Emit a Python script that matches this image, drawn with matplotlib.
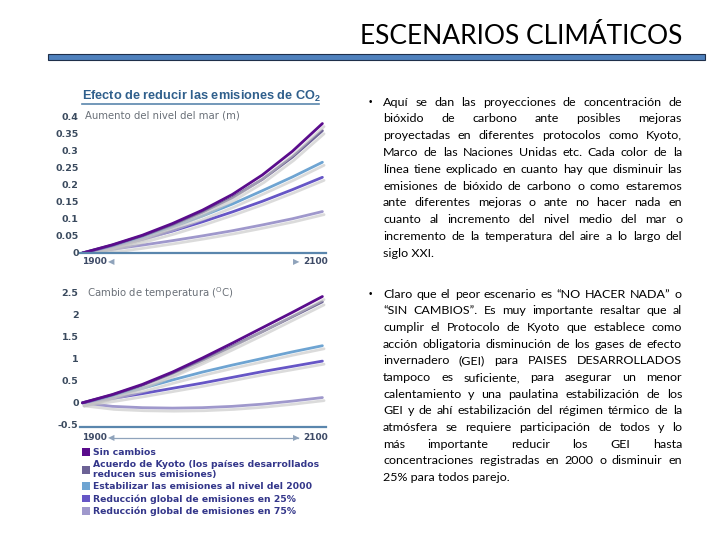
import matplotlib
matplotlib.use("Agg")
import matplotlib.pyplot as plt
import matplotlib.patheffects as pe
from matplotlib.patches import Patch, Rectangle
from matplotlib.lines import Line2D

plt.rcParams['mathtext.default'] = 'regular'

# ---- data ----
years = [1900, 1925, 1950, 1975, 2000, 2025, 2050, 2075, 2100]

scenarios = [
    "Sin cambios",
    "Acuerdo de Kyoto (los países desarrollados\nreducen sus emisiones)",
    "Estabilizar las emisiones al nivel del 2000",
    "Reducción global de emisiones en 25%",
    "Reducción global de emisiones en 75%",
]
colors = ["#5a0c8c", "#6c6295", "#6ea4d2", "#6656c6", "#9f98cc"]

sea_sin_cambios = [0, 0.024, 0.052, 0.086, 0.125, 0.171, 0.228, 0.297, 0.378]
sea_kyoto = [0, 0.023, 0.050, 0.082, 0.119, 0.162, 0.215, 0.280, 0.357]
sea_estabilizar = [0, 0.022, 0.047, 0.076, 0.108, 0.143, 0.182, 0.222, 0.265]
sea_red25 = [0, 0.018, 0.040, 0.064, 0.091, 0.120, 0.151, 0.185, 0.221]
sea_red75 = [0, 0.011, 0.023, 0.036, 0.050, 0.065, 0.082, 0.100, 0.121]

temp_sin_cambios = [0, 0.19, 0.42, 0.70, 1.02, 1.36, 1.71, 2.06, 2.42]
temp_kyoto = [0, 0.18, 0.40, 0.67, 0.97, 1.29, 1.62, 1.96, 2.30]
temp_estabilizar = [0, 0.16, 0.33, 0.52, 0.70, 0.86, 1.01, 1.16, 1.30]
temp_red25 = [0, 0.10, 0.21, 0.33, 0.45, 0.58, 0.71, 0.83, 0.95]
temp_red75 = [0, -0.08, -0.11, -0.12, -0.11, -0.08, -0.03, 0.04, 0.12]

sea_series = [sea_sin_cambios, sea_kyoto, sea_estabilizar, sea_red25, sea_red75]
temp_series = [temp_sin_cambios, temp_kyoto, temp_estabilizar, temp_red25, temp_red75]

sea_ticks = [0, 0.05, 0.1, 0.15, 0.2, 0.25, 0.3, 0.35, 0.4]
temp_ticks = [-0.5, 0, 0.5, 1, 1.5, 2, 2.5]

title = "ESCENARIOS CLIMÁTICOS"
parrafo1 = [
    "Aquí se dan las proyecciones de concentración de",
    "bióxido de carbono ante posibles mejoras",
    "proyectadas en diferentes protocolos como Kyoto,",
    "Marco de las Naciones Unidas etc.  Cada color de la",
    "línea tiene explicado en cuanto hay que disminuir las",
    "emisiones de bióxido de carbono o como estaremos",
    "ante diferentes mejoras o ante no hacer nada en",
    "cuanto al incremento del nivel medio del mar o",
    "incremento de la temperatura del aire a lo largo del",
    "siglo XXI.",
]
parrafo2 = [
    "Claro que el peor escenario es “NO HACER NADA” o",
    "“SIN CAMBIOS”. Es muy importante resaltar que al",
    "cumplir el Protocolo de Kyoto que establece como",
    "acción obligatoria disminución de los gases de efecto",
    "invernadero (GEI) para PAISES DESARROLLADOS",
    "tampoco es suficiente, para asegurar un menor",
    "calentamiento y una paulatina estabilización de los",
    "GEI y de ahí estabilización del régimen térmico de la",
    "atmósfera se requiere participación de todos y lo",
    "más importante reducir los GEI hasta",
    "concentraciones registradas en 2000 o disminuir en",
    "25% para todos parejo.",
]

W, H = 720, 540
fig = plt.figure(figsize=(7.2, 5.4), dpi=100)
fig.patch.set_facecolor("white")


def fx(x):
    return x / W


def fy(y):
    return 1 - y / H


# title and blue bar
fig.text(fx(521), fy(36), title, fontsize=19, ha="center", va="center",
         family="Lato", color="black")
fig.add_artist(Rectangle((fx(48), fy(60)), (705 - 48) / W, 6 / H,
                         transform=fig.transFigure, facecolor="#4f81bd",
                         edgecolor="#1f2f4a", linewidth=0.8))

tick_col = "#3a4a5e"
axis_col = "#5a86ad"
shadow = [pe.SimpleLineShadow(offset=(1.2, -2.2), shadow_color="#c4c4c4", alpha=0.6),
          pe.Normal()]


def setup(ax, ticks, lim):
    ax.set_xlim(1898, 2103)
    ax.set_ylim(*lim)
    ax.set_yticks(ticks)
    ax.set_yticklabels(["%g" % t for t in ticks])
    ax.set_xticks([])
    ax.tick_params(axis="y", length=0, pad=1, labelsize=6.8, labelcolor=tick_col)
    for lab in ax.get_yticklabels():
        lab.set_fontweight("bold")
    for s in ["top", "right", "left"]:
        ax.spines[s].set_visible(False)
    ax.spines["bottom"].set_color(axis_col)
    ax.spines["bottom"].set_linewidth(1.6)
    ax.patch.set_alpha(0)


# sea level chart
ax1 = fig.add_axes([fx(80), fy(253), 246 / W, 137 / H])
setup(ax1, sea_ticks, (0, 0.4))
for vals, c in reversed(list(zip(sea_series, colors))):
    ax1.plot(years, vals, color=c, linewidth=2.0, path_effects=shadow,
             solid_capstyle="round", solid_joinstyle="round")
ax1.text(1902, 0.4, "Aumento del nivel del mar (m)", fontsize=7.3,
         color="#6a7078", va="center", ha="left")

fig.text(fx(82), fy(96), "Efecto de reducir las emisiones de CO$_2$",
         fontsize=9.2, color="#2f5f8c", fontweight="bold", va="center",
         family="Liberation Sans")
fig.add_artist(Line2D([fx(82), fx(319)], [fy(104), fy(104)], color="#5a86ad",
                      linewidth=1.2, transform=fig.transFigure))

# temperature chart
ax2 = fig.add_axes([fx(80), fy(427), 246 / W, 134 / H])
setup(ax2, temp_ticks, (-0.55, 2.5))
for vals, c in reversed(list(zip(temp_series, colors))):
    ax2.plot(years, vals, color=c, linewidth=2.0, path_effects=shadow,
             solid_capstyle="round", solid_joinstyle="round")
ax2.text(1904, 2.5, "Cambio de temperatura ($^{O}$C)", fontsize=7.3,
         color="#6a7078", va="center", ha="left")

# year markers under each chart
yr = dict(fontsize=6.5, fontweight="bold", color="#3d4a66", va="center")
tri = dict(fontsize=6, color="#8fa3bb", va="center")
fig.text(fx(82), fy(262), "1900", ha="left", **yr)
fig.text(fx(108), fy(262), "◀", ha="left", **tri)
fig.text(fx(293), fy(262), "▶", ha="left", **tri)
fig.text(fx(303), fy(262), "2100", ha="left", **yr)

fig.text(fx(82), fy(438), "1900", ha="left", **yr)
fig.add_artist(Line2D([fx(112), fx(298)], [fy(438), fy(438)], color="#8fa3bb",
                      linewidth=0.9, transform=fig.transFigure))
fig.text(fx(108), fy(438), "◀", ha="left", **tri)
fig.text(fx(293), fy(438), "▶", ha="left", **tri)
fig.text(fx(303), fy(438), "2100", ha="left", **yr)

# legend
handles = [Patch(facecolor=c, edgecolor="none") for c in colors]
leg = fig.legend(handles, scenarios, loc="upper left",
                 bbox_to_anchor=(fx(82), fy(448)), frameon=False,
                 borderaxespad=0, borderpad=0, handlelength=0.9,
                 handleheight=0.9, handletextpad=0.3, labelspacing=0.32,
                 prop={"size": 6.7, "weight": "bold", "family": "DejaVu Sans"})
for t in leg.get_texts():
    t.set_color("#33368a")
    t.set_linespacing(1.15)

# justified body text on the right
body = dict(family="Lato", color="black", va="center", ha="left")
x0, x1 = 383, 682
fig.canvas.draw()
r = fig.canvas.get_renderer()


def natural_width(line, size):
    t = fig.text(0, 0, line, fontsize=size, **body)
    w = t.get_window_extent(renderer=r).width
    t.remove()
    return w


widest = max(natural_width(l, 10) for l in parrafo1[:-1] + parrafo2[:-1])
size = min(9.0, 10 * (x1 - x0) / widest * 0.97)


def justified(lines, y0, dy):
    for i, line in enumerate(lines):
        y = fy(y0 + i * dy)
        if i == len(lines) - 1:
            fig.text(fx(x0), y, line, fontsize=size, **body)
            continue
        words = line.split()
        texts = [fig.text(0, y, w, fontsize=size, **body) for w in words]
        widths = [t.get_window_extent(renderer=r).width for t in texts]
        gap = (x1 - x0 - sum(widths)) / max(len(words) - 1, 1)
        x = x0
        for t, w in zip(texts, widths):
            t.set_x(fx(x))
            x += w + gap


fig.text(fx(369), fy(102), "•", fontsize=7, va="center", family="Liberation Sans")
justified(parrafo1, 102, 16.8)
fig.text(fx(369), fy(294), "•", fontsize=7, va="center", family="Liberation Sans")
justified(parrafo2, 294, 16.7)

fig.savefig("out.png", dpi=100, facecolor="white")
